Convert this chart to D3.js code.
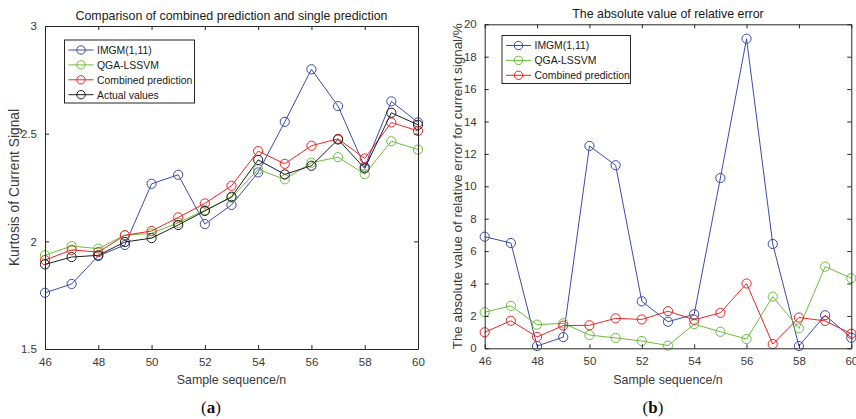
<!DOCTYPE html>
<html>
<head>
<meta charset="utf-8">
<script src="https://cdn.jsdelivr.net/npm/d3@7"></script>
<style>
  body { margin: 0; background: #fff; }
  svg { display: block; }
  text { font-family: "Liberation Sans", Arial, sans-serif; }
</style>
</head>
<body>
<svg id="chart" width="856" height="419"></svg>
<script>
// Sample sequence numbers (x axis)
const samples = [46, 47, 48, 49, 50, 51, 52, 53, 54, 55, 56, 57, 58, 59, 60];

// (a) kurtosis of current signal
const kurtIMGM     = [1.761, 1.802, 1.932, 1.983, 2.267, 2.309, 2.080, 2.169, 2.320, 2.555, 2.799, 2.628, 2.346, 2.650, 2.552];
const kurtQGA      = [1.936, 1.978, 1.966, 2.029, 2.037, 2.086, 2.145, 2.203, 2.334, 2.288, 2.365, 2.391, 2.312, 2.465, 2.426];
const kurtCombined = [1.913, 1.960, 1.950, 2.028, 2.048, 2.111, 2.176, 2.258, 2.419, 2.360, 2.444, 2.476, 2.385, 2.552, 2.513];
const kurtActual   = [1.893, 1.927, 1.935, 1.997, 2.015, 2.076, 2.141, 2.207, 2.378, 2.311, 2.351, 2.473, 2.339, 2.597, 2.541];

// (b) absolute relative error, %
const errIMGM     = [6.89, 6.50, 0.14, 0.69, 12.49, 11.30, 2.90, 1.64, 2.10, 10.51, 19.11, 6.44, 0.14, 2.04, 0.65];
const errQGA      = [2.23, 2.62, 1.46, 1.54, 0.82, 0.64, 0.45, 0.17, 1.49, 1.02, 0.57, 3.19, 1.23, 5.04, 4.33];
const errCombined = [0.99, 1.70, 0.70, 1.40, 1.42, 1.85, 1.78, 2.29, 1.76, 2.19, 4.00, 0.26, 1.90, 1.69, 0.90];

const xTicks = [46, 48, 50, 52, 54, 56, 58, 60];
const kurtTicks = [1.5, 2, 2.5, 3];
const errTicks = [0, 2, 4, 6, 8, 10, 12, 14, 16, 18, 20];

const COLORS = {
  imgm: "#3c4ca6",
  qga: "#6dbd3c",
  combined: "#ee2424",
  actual: "#1e1e1e"
};
const AXIS = "#262626";
const TEXT = "#3a3a3a";

const svg = d3.select("#chart");

function panel(cfg) {
  const g = svg.append("g");
  const x = d3.scaleLinear().domain([46, 60]).range([cfg.left, cfg.right]);
  const y = d3.scaleLinear().domain(cfg.yDomain).range([cfg.bottom, cfg.top]);

  // series
  const line = d3.line().x((d, i) => x(samples[i])).y(d => y(d));
  cfg.series.forEach(s => {
    g.append("path")
      .datum(s.values)
      .attr("fill", "none")
      .attr("stroke", s.color)
      .attr("stroke-width", 1)
      .attr("d", line);
    g.selectAll(null)
      .data(s.values)
      .enter().append("circle")
      .attr("cx", (d, i) => x(samples[i]))
      .attr("cy", d => y(d))
      .attr("r", 4.6)
      .attr("fill", "none")
      .attr("stroke", s.color)
      .attr("stroke-width", 1);
  });

  // axes: ticks drawn inward on all four sides
  const tl = 4;
  const bottom = g.append("g").attr("transform", `translate(0,${cfg.bottom})`)
    .call(d3.axisBottom(x).tickValues(xTicks).tickSizeInner(-tl).tickSizeOuter(0).tickPadding(9).tickFormat(d3.format("d")));
  const top = g.append("g").attr("transform", `translate(0,${cfg.top})`)
    .call(d3.axisTop(x).tickValues(xTicks).tickSizeInner(-tl).tickSizeOuter(0).tickFormat(""));
  const left = g.append("g").attr("transform", `translate(${cfg.left},0)`)
    .call(d3.axisLeft(y).tickValues(cfg.yTicks).tickSizeInner(-tl).tickSizeOuter(0).tickPadding(8).tickFormat(d => String(d)));
  const right = g.append("g").attr("transform", `translate(${cfg.right},0)`)
    .call(d3.axisRight(y).tickValues(cfg.yTicks).tickSizeInner(-tl).tickSizeOuter(0).tickFormat(""));
  [bottom, top, left, right].forEach(a => {
    a.select(".domain").attr("stroke", AXIS);
    a.selectAll(".tick line").attr("stroke", AXIS);
    a.selectAll(".tick text").attr("fill", TEXT).style("font-size", "11.5px")
      .style("font-family", '"Liberation Sans", Arial, sans-serif');
  });

  // title
  g.append("text")
    .attr("x", (cfg.left + cfg.right) / 2)
    .attr("y", cfg.top - 6)
    .attr("text-anchor", "middle")
    .attr("fill", "#1a1a1a")
    .style("font-size", "12.4px")
    .text(cfg.title);

  // axis labels
  g.append("text")
    .attr("x", (cfg.left + cfg.right) / 2)
    .attr("y", 384)
    .attr("text-anchor", "middle")
    .attr("fill", TEXT)
    .style("font-size", "12.4px")
    .text("Sample sequence/n");
  g.append("text")
    .attr("transform", `translate(${cfg.yLabelX},${(cfg.top + cfg.bottom) / 2}) rotate(-90)`)
    .attr("text-anchor", "middle")
    .attr("fill", TEXT)
    .style("font-size", cfg.yLabelSize)
    .text(cfg.yLabel);

  // legend
  const lg = g.append("g");
  lg.append("rect")
    .attr("x", cfg.legend.x).attr("y", cfg.legend.y)
    .attr("width", cfg.legend.w).attr("height", cfg.legend.h)
    .attr("fill", "#fff").attr("stroke", AXIS).attr("stroke-width", 1);
  cfg.series.forEach((s, i) => {
    const yy = cfg.legend.y + 10 + i * 14.9;
    const x0 = cfg.legend.x + 4, x1 = x0 + 25;
    lg.append("line").attr("x1", x0).attr("x2", x1).attr("y1", yy).attr("y2", yy)
      .attr("stroke", s.color).attr("stroke-width", 1);
    lg.append("circle").attr("cx", (x0 + x1) / 2).attr("cy", yy).attr("r", 4.2)
      .attr("fill", "none").attr("stroke", s.color).attr("stroke-width", 1);
    lg.append("text").attr("x", x1 + 3.5).attr("y", yy + 3.8)
      .attr("fill", "#1a1a1a").style("font-size", "10.4px").text(s.name);
  });

  // panel caption
  g.append("text")
    .attr("x", cfg.captionX)
    .attr("y", 413)
    .attr("text-anchor", "middle")
    .attr("fill", "#111")
    .style("font-family", '"Liberation Serif", "DejaVu Serif", serif')
    .style("font-size", "17px")
    .html(`(<tspan font-weight="bold">${cfg.caption}</tspan>)`);
}

panel({
  left: 45, right: 418, top: 26, bottom: 349,
  yDomain: [1.5, 3], yTicks: kurtTicks,
  title: "Comparison of combined prediction and single prediction",
  yLabel: "Kurtosis of Current Signal", yLabelX: 18.5, yLabelSize: "13.8px",
  caption: "a", captionX: 211,
  legend: { x: 64.5, y: 40, w: 130, h: 63 },
  series: [
    { name: "IMGM(1,11)", color: COLORS.imgm, values: kurtIMGM },
    { name: "QGA-LSSVM", color: COLORS.qga, values: kurtQGA },
    { name: "Combined prediction", color: COLORS.combined, values: kurtCombined },
    { name: "Actual values", color: COLORS.actual, values: kurtActual }
  ]
});

panel({
  left: 484.7, right: 851.3, top: 24.3, bottom: 348.3,
  yDomain: [0, 20], yTicks: errTicks,
  title: "The absolute value of relative error",
  yLabel: "The absolute value of relative error for current signal/%", yLabelX: 461.5, yLabelSize: "13.4px",
  caption: "b", captionX: 653,
  legend: { x: 502, y: 35.5, w: 128.5, h: 48 },
  series: [
    { name: "IMGM(1,11)", color: COLORS.imgm, values: errIMGM },
    { name: "QGA-LSSVM", color: COLORS.qga, values: errQGA },
    { name: "Combined prediction", color: COLORS.combined, values: errCombined }
  ]
});
</script>
</body>
</html>
